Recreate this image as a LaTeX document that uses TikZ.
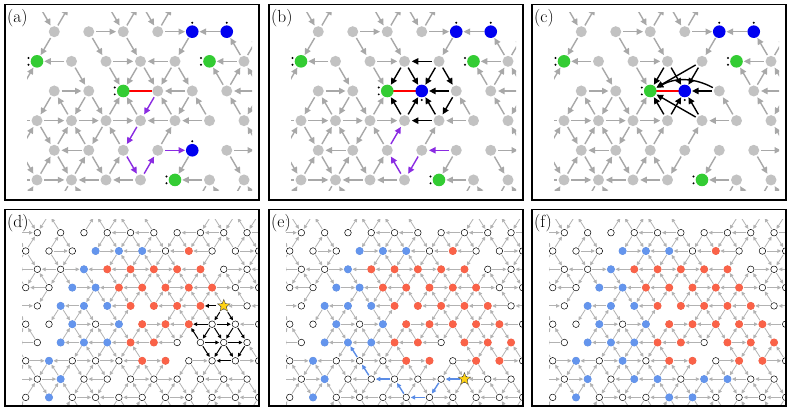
\documentclass[tikz,border=0pt]{standalone}
\usepackage{fontspec}
\usetikzlibrary{arrows.meta,shapes.geometric}
\definecolor{ngray}{RGB}{194,194,194}
\definecolor{agray}{RGB}{168,168,168}
\definecolor{bgray}{RGB}{178,178,178}
\definecolor{gnodec}{RGB}{51,204,51}
\definecolor{bnodec}{RGB}{0,0,240}
\definecolor{purp}{RGB}{138,43,226}
\definecolor{rnodec}{RGB}{250,98,72}
\definecolor{cnodec}{RGB}{100,149,237}
\definecolor{pblue}{RGB}{90,140,230}
\definecolor{staryel}{RGB}{255,210,20}
\tikzset{
  tsite/.style={circle,inner sep=0pt,minimum size=11.5pt},
  bsite/.style={circle,inner sep=0pt,minimum size=7.6pt},
  tarr/.style={-{Triangle[length=6.5pt,width=6.2pt]},line width=1.4pt,shorten >=1.3pt,shorten <=1.3pt},
  garr/.style={tarr,draw=agray},
  parr/.style={tarr,draw=purp},
  karr/.style={tarr,draw=black},
  redbond/.style={draw=red,line width=2.8pt},
  barr/.style={-{Triangle[length=3.8pt,width=3.6pt]},line width=0.8pt,shorten >=0.5pt,shorten <=0.5pt},
  lgarr/.style={barr,draw=bgray},
  kbarr/.style={barr,draw=black,line width=1pt},
  bbarr/.style={-{Triangle[length=4.5pt,width=4.2pt]},line width=1.4pt,shorten >=0.5pt,shorten <=0.5pt,draw=pblue},
  lab/.style={anchor=base west,inner sep=0pt,font=\fontsize{17.5}{18}\selectfont},
  pframe/.style={draw=black,line width=1.2pt},
  ystar/.style={star,star points=5,star point ratio=2.4,minimum size=13pt,inner sep=0pt,fill=staryel,draw=black!70,line width=0.4pt}
}
\makeatletter
\newcommand\TopSites[2]{%
  \foreach \r in {0,...,7}{%
    \foreach \c in {-2,...,14}{%
      \pgfmathtruncatemacro\tpar{mod(\r+\c+20,2)}%
      \ifnum\tpar=0\relax
        \node[tsite] (#1-\r-\c) at ({#2+32+17.25*\c},{31.7+29.65*(\r-1)}) {};%
      \fi}}}
\newcommand\TopFill[1]{%
  \foreach \r in {1,...,6}{%
    \foreach \c in {0,...,12}{%
      \pgfmathtruncatemacro\tpar{mod(\r+\c,2)}%
      \ifnum\tpar=0\relax \fill[ngray] (#1-\r-\c) circle (5.5pt);\fi}}}
\newcommand\BotSites[2]{%
  \foreach \n in {0,...,11}{%
    \foreach \c in {-2,...,21}{%
      \pgfmathtruncatemacro\tpar{mod(\n+\c+20,2)}%
      \ifnum\tpar=0\relax
        \node[bsite] (#1-\n-\c) at ({#2+20.7+11.65*\c},{232.7+18.3*(\n-1)}) {};%
      \fi}}}
\newcommand\BotFill[1]{%
  \foreach \n in {1,...,10}{%
    \foreach \c in {-1,...,20}{%
      \pgfmathtruncatemacro\tpar{mod(\n+\c+20,2)}%
      \ifnum\tpar=0\relax \filldraw[fill=white,draw=black,line width=0.5pt] (#1-\n-\c) circle (3.3pt);\fi}}}
\newcommand\BotBonds[2]{%
  \foreach \n in {0,...,10}{%
    \foreach \c in {-2,...,21}{%
      \pgfmathtruncatemacro\tpar{mod(\n+\c+20,2)}%
      \ifnum\tpar=0\relax
        \foreach \d/\dn/\dc in {0/0/2,1/1/1,2/1/-1}{%
          \pgfmathtruncatemacro\nn{\n+\dn}%
          \pgfmathtruncatemacro\cc{\c+\dc}%
          \pgfmathtruncatemacro\h{mod(\n*29+\c*41+\d*83+\n*\c*23+\n*\n*7+\c*\c*5+2000,17)}%
          \ifnum\cc>21\relax\else\ifnum\cc<-2\relax\else\ifnum\h<12\relax
            \edef\bk{,\n:\c:\nn:\cc,}%
            \edef\tmp{\noexpand\in@{\bk}{#2}}\tmp
            \ifin@\else
              \pgfmathtruncatemacro\s{mod(mod(\n*37+\c*53+\d*71+\n*\c*17+\c*\c*11+2000,13),2)}%
              \ifnum\s=0\relax
                \draw[lgarr] (#1-\n-\c) -- (#1-\nn-\cc);
              \else
                \draw[lgarr] (#1-\nn-\cc) -- (#1-\n-\c);
              \fi
            \fi
          \fi\fi\fi
        }%
      \fi}}}
\makeatother
\newcommand\TopGrayList{0/0/1/1,1/1/0/2,0/4/1/5,1/5/0/6,0/6/1/7,1/7/0/8,1/3/1/5,1/7/1/9,1/11/1/9,
1/1/2/0,1/3/2/4,1/5/2/6,1/9/2/8,2/12/1/11,2/12/1/13,2/2/2/0,2/4/2/6,2/12/2/10,3/-1/2/0,
2/2/3/3,2/4/3/5,3/11/2/10,3/11/2/12,3/13/2/12,3/1/3/3,3/13/3/11,
3/1/4/0,4/2/3/1,3/3/4/2,3/3/4/4,4/4/3/5,4/10/3/9,4/12/3/11,3/13/4/12,
4/0/4/-2,4/0/4/2,4/2/4/4,4/4/4/6,4/10/4/8,
5/-1/4/0,4/0/5/1,5/1/4/2,5/3/4/2,4/4/5/3,5/5/4/4,5/7/4/8,5/13/4/12,5/3/5/1,5/11/5/13,
6/0/5/1,5/1/6/2,6/2/5/3,5/3/6/4,6/4/5/5,5/9/6/8,5/11/6/12,5/-1/6/0,
6/0/6/-2,6/0/6/2,6/4/6/2,6/6/6/4,6/10/6/8,
7/-1/6/0,6/2/7/1,7/3/6/2,6/10/7/9,7/11/6/10,6/12/7/11,7/13/6/12}
\newcommand\ExclD{,5:15:5:17,5:17:6:16,5:17:6:18,6:14:6:16,6:16:6:18,6:14:7:15,6:16:7:15,6:16:7:17,6:18:7:17,6:18:7:19,7:15:7:17,7:17:7:19,7:15:8:16,7:17:8:16,7:17:8:18,7:19:8:18,8:16:8:18,}
\newcommand\ExclE{,9:13:9:15,9:13:10:12,10:10:10:12,9:9:10:10,9:7:9:9,8:6:9:7,7:5:8:6,}
\newcommand\RedD{2/14,3/7,3/9,3/11,3/13,3/15,4/8,4/10,4/12,4/14,4/16,5/9,5/11,5/13,5/15,6/10,6/12,6/14,7/9,7/11,8/10,8/12}
\newcommand\RedE{5/17,6/16,6/18,7/15,7/17,7/19,8/16,8/18}
\newcommand\BlueD{2/6,2/8,2/10,3/5,4/4,4/6,5/3,5/5,5/7,6/4,6/8,7/3,7/5,7/7,8/2,9/3,10/2}
\newcommand\BlueF{8/6,9/7,9/9,9/13,9/15,10/10,10/12}
\newcommand\PathE{9/15/9/13,9/13/10/12,10/12/10/10,10/10/9/9,9/9/9/7,9/7/8/6,8/6/7/5}
\begin{document}
\begin{tikzpicture}[x=1pt,y=-1pt]
\useasboundingbox (0,0) rectangle (793,411);
\fill[white] (0,0) rectangle (793,411);
% ================= panel (a)
\TopSites{a}{5}
\begin{scope}
\clip (27,13) rectangle (252,191);
\foreach \ra/\ca/\rb/\cb in \TopGrayList {\draw[garr] (a-\ra-\ca) -- (a-\rb-\cb);}
\foreach \ra/\ca/\rb/\cb in {2/8/2/6,2/6/3/5,2/6/3/7,2/8/3/7,2/8/3/9,3/9/3/7,3/9/4/8,4/8/3/7,4/8/4/6,4/6/3/5}
  {\draw[garr] (a-\ra-\ca) -- (a-\rb-\cb);}
\foreach \ra/\ca/\rb/\cb in {3/7/4/6,4/6/5/5,5/5/6/6,6/6/5/7,5/7/5/9}
  {\draw[parr] (a-\ra-\ca) -- (a-\rb-\cb);}
\draw[redbond] (a-3-5) -- (a-3-7);
\TopFill{a}
\foreach \r/\c in {1/9,1/11,5/9} {\fill[bnodec] (a-\r-\c) circle (6.3pt); \fill (a-\r-\c) ++(0,-9) circle (1.1pt);}
\foreach \r/\c in {2/0,3/5,2/10,6/8} {\fill[gnodec] (a-\r-\c) circle (6.3pt);
  \fill (a-\r-\c) ++(-8.5,-3.4) circle (1.1pt) ++(0,6.8) circle (1.1pt);}
\end{scope}
\draw[pframe] (5,4.5) rectangle (259,200);
\node[lab] (la) at (7,23) {(a)};
% ================= panel (b)
\TopSites{b}{269}
\begin{scope}
\clip (291,13) rectangle (516,191);
\foreach \ra/\ca/\rb/\cb in \TopGrayList {\draw[garr] (b-\ra-\ca) -- (b-\rb-\cb);}
\foreach \ra/\ca/\rb/\cb in {2/8/2/6,2/6/3/5,2/6/3/7,2/8/3/7,2/8/3/9,3/9/3/7,3/9/4/8,4/8/3/7,4/8/4/6,4/6/3/5,4/6/3/7}
  {\draw[karr] (b-\ra-\ca) -- (b-\rb-\cb);}
\foreach \ra/\ca/\rb/\cb in {5/5/4/6,6/6/5/5,5/7/6/6,5/9/5/7}
  {\draw[parr] (b-\ra-\ca) -- (b-\rb-\cb);}
\draw[redbond] (b-3-5) -- (b-3-7);
\TopFill{b}
\foreach \r/\c in {1/9,1/11} {\fill[bnodec] (b-\r-\c) circle (6.3pt); \fill (b-\r-\c) ++(0,-9) circle (1.1pt);}
\fill[bnodec] (b-3-7) circle (6.3pt); \fill (b-3-7) ++(0,9) circle (1.1pt);
\foreach \r/\c in {2/0,3/5,2/10,6/8} {\fill[gnodec] (b-\r-\c) circle (6.3pt);
  \fill (b-\r-\c) ++(-8.5,-3.4) circle (1.1pt) ++(0,6.8) circle (1.1pt);}
\end{scope}
\draw[pframe] (269,4.5) rectangle (523,200);
\node[lab] (lb) at (271,23) {(b)};
% ================= panel (c)
\TopSites{c}{532}
\begin{scope}
\clip (554,13) rectangle (779,191);
\foreach \ra/\ca/\rb/\cb in \TopGrayList {\draw[garr] (c-\ra-\ca) -- (c-\rb-\cb);}
\foreach \ra/\ca/\rb/\cb in {5/5/4/6,6/6/5/5,5/7/6/6}
  {\draw[garr] (c-\ra-\ca) -- (c-\rb-\cb);}
\foreach \ra/\ca/\rb/\cb in {2/6/3/5,2/6/3/7,2/8/3/5,2/8/3/7,3/9/3/7,4/6/3/5,4/6/3/7,4/8/3/5,4/8/3/7}
  {\draw[karr] (c-\ra-\ca) -- (c-\rb-\cb);}
\draw[karr] (c-3-9) to[bend right=28] (c-3-5);
\draw[redbond] (c-3-5) -- (c-3-7);
\TopFill{c}
\foreach \r/\c in {1/9,1/11} {\fill[bnodec] (c-\r-\c) circle (6.3pt); \fill (c-\r-\c) ++(0,-9) circle (1.1pt);}
\fill[bnodec] (c-3-7) circle (6.3pt); \fill (c-3-7) ++(0,9) circle (1.1pt);
\foreach \r/\c in {2/0,3/5,2/10,6/8} {\fill[gnodec] (c-\r-\c) circle (6.3pt);
  \fill (c-\r-\c) ++(-8.5,-3.4) circle (1.1pt) ++(0,6.8) circle (1.1pt);}
\end{scope}
\draw[pframe] (532,4.5) rectangle (786,200);
\node[lab] (lc) at (534,23) {(c)};
% ================= panel (d)
\BotSites{d}{5}
\begin{scope}
\clip (22,220) rectangle (259,404.5);
\BotBonds{d}{\ExclD}
\foreach \ra/\ca/\rb/\cb in {6/16/6/14,6/16/6/18,7/15/6/14,6/16/7/15,6/16/7/17,6/18/7/17,6/18/7/19,7/15/7/17,7/17/7/19,7/15/8/16,7/17/8/16,7/17/8/18,7/19/8/18,8/18/8/16}
  {\draw[kbarr] (d-\ra-\ca) -- (d-\rb-\cb);}
\foreach \rb/\cb in {5/15,6/16,6/18} {\draw[kbarr,shorten <=3.5pt] (d-5-17) -- (d-\rb-\cb);}
\BotFill{d}
\foreach \n/\c in \RedD {\fill[rnodec] (d-\n-\c) circle (4pt);}
\foreach \n/\c in \BlueD {\fill[cnodec] (d-\n-\c) circle (4pt);}
\end{scope}
\node[ystar] (dstar) at (d-5-17) {};
\draw[pframe] (5,209.5) rectangle (259,406);
\node[lab] (ld) at (7,228) {(d)};
% ================= panel (e)
\BotSites{e}{269}
\begin{scope}
\clip (286,220) rectangle (523,404.5);
\BotBonds{e}{\ExclE}
\foreach \ra/\ca/\rb/\cb in \PathE {\draw[bbarr] (e-\ra-\ca) -- (e-\rb-\cb);}
\BotFill{e}
\foreach \n/\c in \RedD {\fill[rnodec] (e-\n-\c) circle (4pt);}
\foreach \n/\c in \RedE {\fill[rnodec] (e-\n-\c) circle (4pt);}
\foreach \n/\c in \BlueD {\fill[cnodec] (e-\n-\c) circle (4pt);}
\end{scope}
\node[ystar] (estar) at (e-9-15) {};
\draw[pframe] (269,209.5) rectangle (523,406);
\node[lab] (le) at (271,228) {(e)};
% ================= panel (f)
\BotSites{f}{532}
\begin{scope}
\clip (549,220) rectangle (786,404.5);
\BotBonds{f}{\ExclE}
\foreach \ra/\ca/\rb/\cb in \PathE {\draw[lgarr] (f-\ra-\ca) -- (f-\rb-\cb);}
\BotFill{f}
\foreach \n/\c in \RedD {\fill[rnodec] (f-\n-\c) circle (4pt);}
\foreach \n/\c in \RedE {\fill[rnodec] (f-\n-\c) circle (4pt);}
\foreach \n/\c in \BlueD {\fill[cnodec] (f-\n-\c) circle (4pt);}
\foreach \n/\c in \BlueF {\fill[cnodec] (f-\n-\c) circle (4pt);}
\end{scope}
\draw[pframe] (532,209.5) rectangle (786,406);
\node[lab] (lf) at (534,228) {(f)};
\end{tikzpicture}
\end{document}
